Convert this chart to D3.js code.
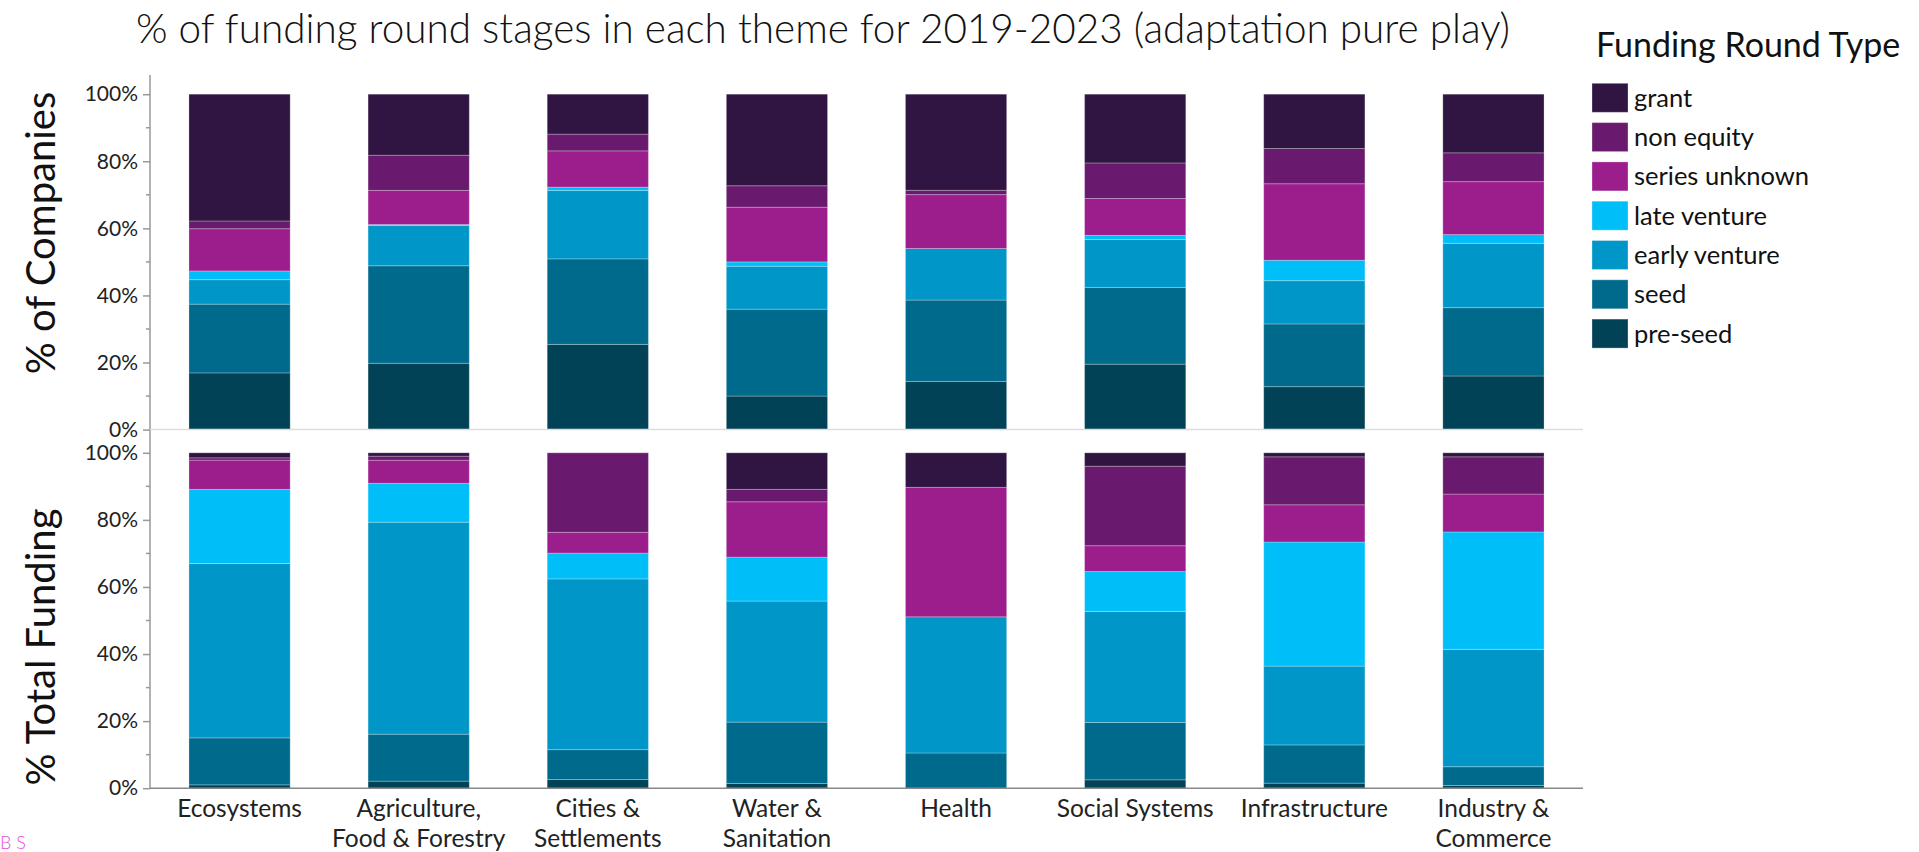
<!DOCTYPE html>
<html>
<head>
<meta charset="utf-8">
<script src="https://cdn.jsdelivr.net/npm/d3@7"></script>
<style>
  body { margin: 0; background: #fff; }
  svg { display: block; font-family: Lato, 'Noto Sans', sans-serif; }
</style>
</head>
<body>
<svg id="chart" width="1919" height="852"></svg>
<script>
// categories (themes) and how their labels wrap
const themes = ['Ecosystems', 'Agriculture, Food & Forestry', 'Cities & Settlements', 'Water & Sanitation',
  'Health', 'Social Systems', 'Infrastructure', 'Industry & Commerce'];
const themeLines = [['Ecosystems'], ['Agriculture,', 'Food & Forestry'], ['Cities &', 'Settlements'],
  ['Water &', 'Sanitation'], ['Health'], ['Social Systems'], ['Infrastructure'], ['Industry &', 'Commerce']];

// stack order, bottom to top
const roundTypes = ['pre-seed', 'seed', 'early venture', 'late venture', 'series unknown', 'non equity', 'grant'];
const roundColors = ['#014256', '#006a8c', '#0096c7', '#00bef7', '#9c1d8c', '#6a1a6e', '#301441'];

// % of companies per theme
const companiesPreSeed = [16.9, 19.8, 25.4, 10.0, 14.4, 19.5, 12.8, 16.0];
const companiesSeed    = [20.5, 29.1, 25.5, 25.9, 24.3, 22.9, 18.7, 20.4];
const companiesEarly   = [7.3, 12.0, 20.4, 12.8, 15.4, 14.3, 12.9, 19.2];
const companiesLate    = [2.6, 0.3, 1.0, 1.3, 0, 1.2, 6.1, 2.6];
const companiesSeries  = [12.6, 10.2, 10.8, 16.3, 16.1, 11.0, 22.8, 15.8];
const companiesNonEq   = [2.3, 10.5, 5.0, 6.4, 1.3, 10.6, 10.5, 8.6];
const companiesGrant   = [37.8, 18.2, 11.9, 27.3, 28.7, 20.5, 16.2, 17.5];

// % of total funding per theme
const fundingPreSeed = [1.0, 2.1, 2.6, 1.4, 0, 2.5, 1.5, 0.8];
const fundingSeed    = [14.0, 14.0, 8.9, 18.3, 10.5, 17.1, 11.4, 5.6];
const fundingEarly   = [52.0, 63.2, 50.9, 36.1, 40.6, 33.1, 23.5, 35.0];
const fundingLate    = [22.1, 11.6, 7.7, 13.1, 0, 11.9, 37.0, 35.0];
const fundingSeries  = [8.7, 6.9, 6.2, 16.5, 38.6, 7.7, 11.1, 11.3];
const fundingNonEq   = [0.7, 1.2, 23.7, 3.7, 0, 23.7, 14.3, 11.1];
const fundingGrant   = [1.5, 1.0, 0, 10.9, 10.3, 4.0, 1.2, 1.2];

const yTicks = [0, 0.2, 0.4, 0.6, 0.8, 1];
const yMinorTicks = [0.1, 0.3, 0.5, 0.7, 0.9];

function toRows(series) {
  return themes.map((t, i) => {
    const row = { theme: t };
    roundTypes.forEach((k, j) => row[k] = series[j][i]);
    return row;
  });
}
const companiesRows = toRows([companiesPreSeed, companiesSeed, companiesEarly, companiesLate,
  companiesSeries, companiesNonEq, companiesGrant]);
const fundingRows = toRows([fundingPreSeed, fundingSeed, fundingEarly, fundingLate,
  fundingSeries, fundingNonEq, fundingGrant]);

const svg = d3.select('#chart');
const axisX = 150, plotRight = 1583;

const x = d3.scaleBand()
  .domain(themes)
  .range([axisX, plotRight])
  .paddingInner(0.435)
  .paddingOuter(0.2175);

const color = d3.scaleOrdinal().domain(roundTypes).range(roundColors);
const stack = d3.stack().keys(roundTypes).offset(d3.stackOffsetExpand);

// title
svg.append('text')
  .attr('x', 823).attr('y', 43)
  .attr('text-anchor', 'middle')
  .attr('font-size', 40.5).attr('font-weight', 300)
  .attr('fill', '#111')
  .text('% of funding round stages in each theme for 2019-2023 (adaptation pure play)');

// vertical axis line shared by both panels
svg.append('line')
  .attr('x1', axisX).attr('x2', axisX)
  .attr('y1', 75).attr('y2', 789)
  .attr('stroke', '#999').attr('stroke-width', 1.5);

function drawPanel(rows, top, bottom, label, labelY, zeroColor, withXLabels) {
  const y = d3.scaleLinear().domain([0, 1]).range([bottom, top]);
  const g = svg.append('g');

  g.append('g')
    .selectAll('g')
    .data(stack(rows))
    .join('g')
      .attr('fill', d => color(d.key))
    .selectAll('rect')
    .data(d => d)
    .join('rect')
      .attr('x', d => x(d.data.theme))
      .attr('width', x.bandwidth())
      .attr('y', d => y(d[1]))
      .attr('height', d => y(d[0]) - y(d[1]))
      .attr('stroke', 'rgba(255,255,255,0.25)')
      .attr('stroke-width', 1);

  // zero line
  g.append('line')
    .attr('x1', axisX).attr('x2', plotRight)
    .attr('y1', y(0)).attr('y2', y(0))
    .attr('stroke', zeroColor).attr('stroke-width', 1.5);

  const yAxis = d3.axisLeft(y)
    .tickValues(yTicks)
    .tickFormat(d3.format('.0%'))
    .tickSizeInner(7)
    .tickSizeOuter(0)
    .tickPadding(5);

  const ax = g.append('g')
    .attr('transform', `translate(${axisX},0)`)
    .call(yAxis);
  ax.select('.domain').remove();
  ax.selectAll('.tick line').attr('stroke', '#999').attr('stroke-width', 1.5);
  ax.selectAll('.tick text')
    .attr('fill', '#222')
    .attr('font-size', 21)
    .attr('font-family', 'Lato, sans-serif');

  g.append('g')
    .selectAll('line')
    .data(yMinorTicks)
    .join('line')
      .attr('x1', axisX - 4).attr('x2', axisX)
      .attr('y1', d => y(d)).attr('y2', d => y(d))
      .attr('stroke', '#999').attr('stroke-width', 1.5);

  svg.append('text')
    .attr('transform', `translate(${55},${labelY}) rotate(-90)`)
    .attr('text-anchor', 'middle')
    .attr('font-size', 40)
    .attr('fill', '#111')
    .text(label);

  if (withXLabels) {
    const lab = g.append('g')
      .selectAll('text')
      .data(themes)
      .join('text')
        .attr('x', d => x(d) + x.bandwidth() / 2)
        .attr('y', bottom + 29)
        .attr('text-anchor', 'middle')
        .attr('font-size', 24.5)
        .attr('fill', '#222');
    lab.selectAll('tspan')
      .data((d, i) => themeLines[i])
      .join('tspan')
        .attr('x', function () { return this.parentNode.getAttribute('x'); })
        .attr('dy', (d, i) => i === 0 ? 0 : 30)
        .text(d => d);
  }
}

drawPanel(companiesRows, 94.2, 429.6, '% of Companies', 233, '#ddd', false);
drawPanel(fundingRows, 452.8, 788.2, '% Total Funding', 647, '#888', true);

// legend
const legend = svg.append('g');
legend.append('text')
  .attr('x', 1596).attr('y', 57)
  .attr('font-size', 34)
  .attr('fill', '#111')
  .text('Funding Round Type');

const legendKeys = roundTypes.slice().reverse();
const item = legend.selectAll('g.item')
  .data(legendKeys)
  .join('g')
    .attr('class', 'item')
    .attr('transform', (d, i) => `translate(1592,${83.3 + i * 39.3})`);
item.append('rect')
  .attr('width', 36).attr('height', 29)
  .attr('fill', d => color(d))
  .attr('stroke', 'rgba(255,255,255,0.3)');
item.append('text')
  .attr('x', 42).attr('y', 14.5)
  .attr('dy', '0.35em')
  .attr('font-size', 25.5)
  .attr('fill', '#111')
  .text(d => d);

// watermark fragment at the bottom-left corner
svg.append('text')
  .attr('x', 0).attr('y', 849)
  .attr('font-size', 18).attr('font-weight', 300)
  .attr('fill', '#e250d6')
  .text('B S');
</script>
</body>
</html>
